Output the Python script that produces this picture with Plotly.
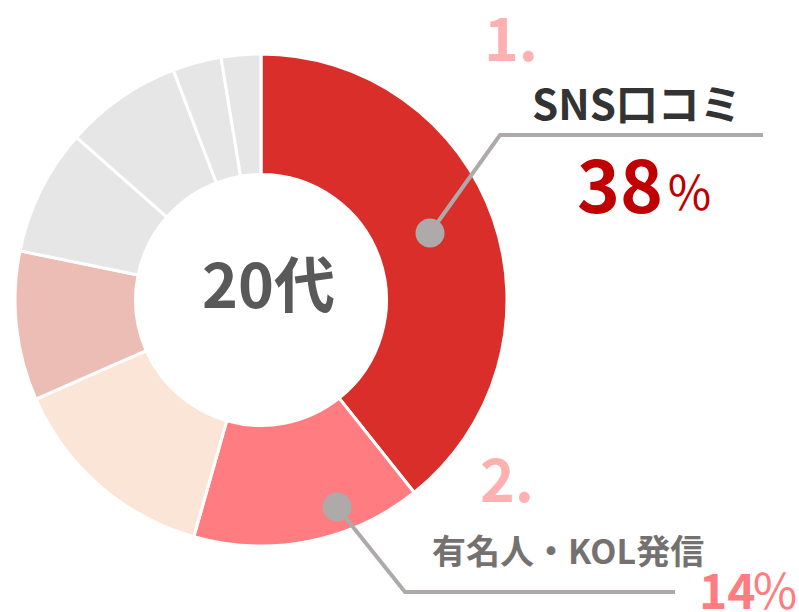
import plotly.graph_objects as go

# ---- data ----
categories = ["SNS口コミ", "有名人・KOL発信", "その他3", "その他4", "その他5", "その他6", "その他7", "その他8"]
values = [39.3, 15.1, 14.0, 9.8, 8.3, 7.7, 3.2, 2.6]
slice_colors = ["#d92e2a", "#ff7c80", "#fbe5d6", "#ecbdb5", "#e6e6e6", "#e6e6e6", "#e6e6e6", "#e6e6e6"]
center_label = "20代"
rank_labels = ["1.", "2."]
top_names = ["SNS口コミ", "有名人・KOL発信"]
top_pcts = ["38", "14"]

W, H = 799, 612
FONT = "Noto Sans CJK JP"


def px(x):
    return x / W


def py(y):
    return 1 - y / H


fig = go.Figure()
fig.add_trace(go.Pie(
    labels=categories,
    values=values,
    sort=False,
    direction="clockwise",
    rotation=0,
    hole=0.51,
    marker=dict(colors=slice_colors, line=dict(color="white", width=3)),
    textinfo="none",
    hoverinfo="skip",
    showlegend=False,
    domain=dict(x=[px(15), px(507)], y=[py(546), py(54)]),
))

ann = []


def add_text(text, x, y, size, color, bold=True):
    t = f"<b>{text}</b>" if bold else text
    ann.append(dict(text=t, x=px(x), y=py(y), xref="paper", yref="paper",
                    xanchor="center", yanchor="middle", showarrow=False,
                    font=dict(family=FONT, size=size, color=color)))


add_text(center_label, 268, 282, 61, "#595959")
add_text(rank_labels[0], 511, 35, 59, "#ffb0b0")
add_text(top_names[0], 637, 102, 42, "#333333")
add_text(top_pcts[0], 620, 181, 73, "#c00000")
add_text("％", 689, 189, 47, "#c00000", bold=False)
add_text(rank_labels[1], 507, 476, 59, "#ffb0b0")
add_text(top_names[1], 568, 549, 34, "#767171")
add_text(top_pcts[1], 727, 588, 48, "#ff7c80")
add_text("％", 775, 588, 48, "#ff7c80", bold=False)

line_col = "#aeaaaa"
shapes = [
    dict(type="path", xref="paper", yref="paper",
         path=f"M {px(430)},{py(233)} L {px(500)},{py(135)} L {px(763)},{py(135)}",
         line=dict(color=line_col, width=4)),
    dict(type="path", xref="paper", yref="paper",
         path=f"M {px(337)},{py(507)} L {px(405)},{py(592)} L {px(675)},{py(592)}",
         line=dict(color=line_col, width=4)),
    dict(type="circle", xref="paper", yref="paper",
         x0=px(430 - 14.5), x1=px(430 + 14.5), y0=py(233 + 14.5), y1=py(233 - 14.5),
         fillcolor=line_col, line=dict(width=0)),
    dict(type="circle", xref="paper", yref="paper",
         x0=px(337 - 14.5), x1=px(337 + 14.5), y0=py(507 + 14.5), y1=py(507 - 14.5),
         fillcolor=line_col, line=dict(width=0)),
]

fig.update_layout(
    width=W, height=H,
    margin=dict(l=0, r=0, t=0, b=0),
    paper_bgcolor="white", plot_bgcolor="white",
    annotations=ann, shapes=shapes,
    font=dict(family=FONT),
)

fig.write_html("out.html",
               config={"displayModeBar": False},
               post_script="document.body.style.margin='0';document.body.style.overflow='hidden';")
